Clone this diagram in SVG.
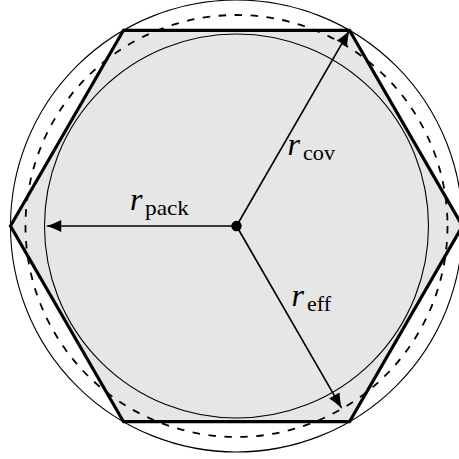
<svg xmlns="http://www.w3.org/2000/svg" width="459" height="459" viewBox="0 0 459 459">
  <style>
    .thin { fill: none; stroke: #000; stroke-width: 1.1; }
    .dash { fill: none; stroke: #000; stroke-width: 1.8; stroke-dasharray: 7.5 8.5; }
    .hex { fill: #e6e6e6; stroke: #000; stroke-width: 3.2; stroke-linejoin: miter; }
    .arrow { stroke: #000; stroke-width: 1.6; fill: none; marker-end: url(#ah); }
    .r { font-family: "Liberation Serif", "Times New Roman", serif; font-style: italic; font-size: 32px; fill: #000; }
    .sub { font-family: "Liberation Serif", "Times New Roman", serif; font-size: 21px; fill: #000; }
  </style>
  <defs>
    <marker id="ah" markerUnits="userSpaceOnUse" markerWidth="20" markerHeight="20" viewBox="-14 -6 16 12" refX="0" refY="0" orient="auto">
      <path d="M1.5 0 C-3 -1 -7 -2.8 -11 -4.8 L-11 4.8 C-7 2.8 -3 1 1.5 0 Z" fill="#000"/>
    </marker>
  </defs>
  <g id="hexagon">
    <polygon class="hex" points="10.5,226 123.5,30.3 349.5,30.3 462.5,226 349.5,421.7 123.5,421.7"/>
  </g>
  <g id="circles">
    <circle id="c-pack" class="thin" cx="236.5" cy="226" r="192"/>
    <circle id="c-eff" class="dash" cx="236.5" cy="226" r="211"/>
    <circle id="c-cov" class="thin" cx="236.5" cy="226" r="226"/>
  </g>
  <g id="connectors">
    <line class="arrow" x1="236.5" y1="226" x2="47.5" y2="226"/>
    <line class="arrow" x1="236.5" y1="226" x2="348.8" y2="31.6"/>
    <line class="arrow" x1="236.5" y1="226" x2="341.2" y2="407.4"/>
  </g>
  <g id="center">
    <circle cx="236.5" cy="226" r="5.2" fill="#000"/>
  </g>
  <g id="label-pack">
    <text class="r" x="130" y="210">r</text>
    <text class="sub" x="145" y="214.5" textLength="44" lengthAdjust="spacingAndGlyphs">pack</text>
  </g>
  <g id="label-cov">
    <text class="r" x="287.5" y="154.5">r</text>
    <text class="sub" x="303" y="159.5" textLength="32" lengthAdjust="spacingAndGlyphs">cov</text>
  </g>
  <g id="label-eff">
    <text class="r" x="291.5" y="306">r</text>
    <text class="sub" x="307" y="310.5" textLength="24" lengthAdjust="spacingAndGlyphs">eff</text>
  </g>
</svg>
